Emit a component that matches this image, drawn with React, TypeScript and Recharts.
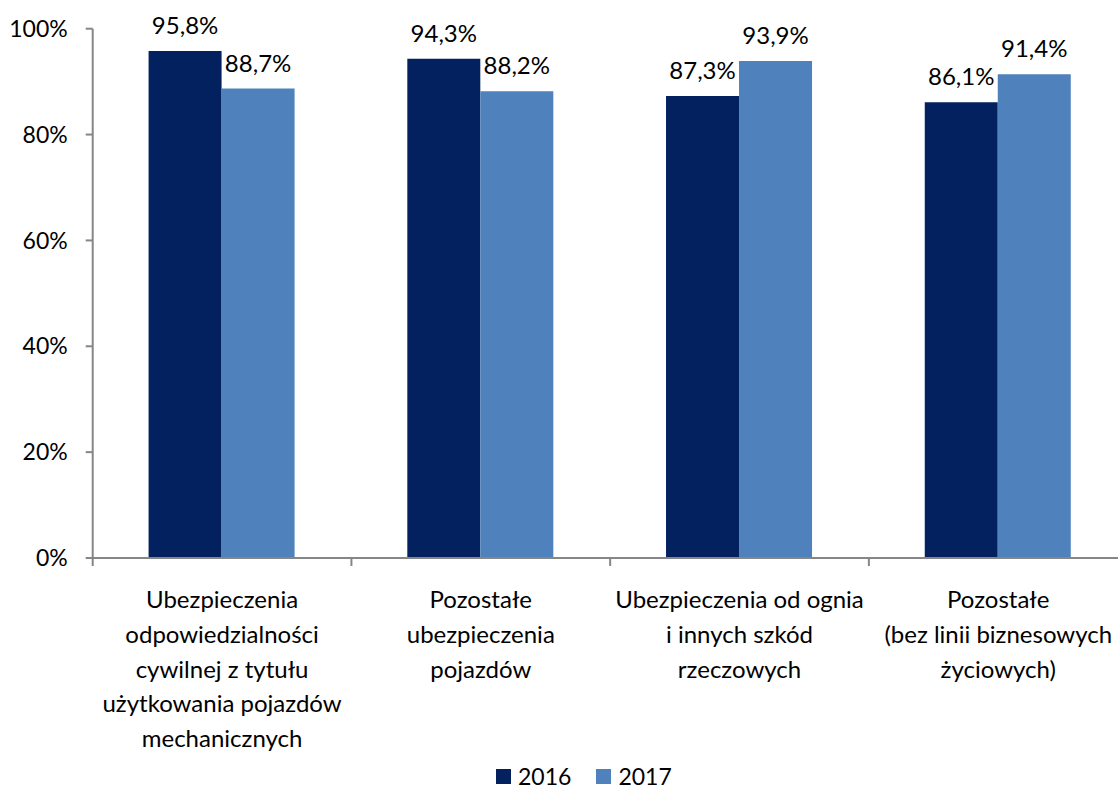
import React from 'react';
import { BarChart, Bar, XAxis, YAxis, LabelList, Legend } from 'recharts';

const categories = [
  'Ubezpieczenia\nodpowiedzialności\ncywilnej z tytułu\nużytkowania pojazdów\nmechanicznych',
  'Pozostałe\nubezpieczenia\npojazdów',
  'Ubezpieczenia od ognia\ni innych szkód\nrzeczowych',
  'Pozostałe\n(bez linii biznesowych\nżyciowych)',
];
const values2016 = [95.8, 94.3, 87.3, 86.1];
const values2017 = [88.7, 88.2, 93.9, 91.4];
const yTicks = [0, 20, 40, 60, 80, 100];
const seriesNames = ['2016', '2017'];
const seriesColors = ['#03205F', '#4F81BD'];

const data = categories.map((name, i) => ({
  name,
  v2016: values2016[i],
  v2017: values2017[i],
}));

const FONT = 'Lato, "Open Sans", sans-serif';
const AXIS = '#868686';

const fmt = (v: any) => `${Number(v).toFixed(1).replace('.', ',')}%`;

const CategoryTick = (props: any) => {
  const { x, y, payload } = props;
  const lines = String(payload.value).split('\n');
  const half = payload.offset ?? 0;
  return (
    <g>
      <line x1={x - half} x2={x - half} y1={y - 8} y2={y} stroke={AXIS} strokeWidth={2} />
      <text x={x} y={y} textAnchor="middle" fontFamily={FONT} fontSize={24} fill="#000">
        {lines.map((l, i) => (
          <tspan key={i} x={x} dy={i === 0 ? 42 : 34.8}>
            {l}
          </tspan>
        ))}
      </text>
    </g>
  );
};

const LegendContent = () => (
  <div
    style={{
      height: 26,
      display: 'flex',
      alignItems: 'center',
      paddingLeft: 496,
      fontFamily: FONT,
      fontSize: 23,
      lineHeight: '26px',
      color: '#000',
    }}
  >
    {seriesNames.map((n, i) => (
      <div key={n} style={{ display: 'flex', alignItems: 'center', marginRight: 25 }}>
        <div style={{ width: 15, height: 15, background: seriesColors[i], marginRight: 7 }} />
        <span>{n}</span>
      </div>
    ))}
  </div>
);

export default function App() {
  return (
    <div style={{ position: 'absolute', left: 0, top: 0, width: 1118, height: 789, overflow: 'hidden', background: '#fff' }}>
      <BarChart
        width={1140}
        height={789}
        data={data}
        margin={{ top: 28.7, right: 12.4, left: 0, bottom: 0 }}
        barCategoryGap="21.6%"
        barGap={0}
      >
        <YAxis
          domain={[0, 100]}
          ticks={yTicks}
          tickFormatter={(v: any) => `${v}%`}
          width={92.7}
          axisLine={{ stroke: AXIS, strokeWidth: 2 }}
          tickLine={{ stroke: AXIS, strokeWidth: 2 }}
          tickSize={7}
          tickMargin={18}
          tick={{ fontFamily: FONT, fontSize: 23, fill: '#000' }}
          interval={0}
        />
        <XAxis
          dataKey="name"
          interval={0}
          height={205}
          axisLine={{ stroke: AXIS, strokeWidth: 2 }}
          tickLine={false}
          tickSize={8}
          tickMargin={0}
          tick={<CategoryTick />}
        />
        <Legend verticalAlign="bottom" content={<LegendContent />} wrapperStyle={{ left: 0, width: 1118 }} />
        <Bar dataKey="v2016" name={seriesNames[0]} fill={seriesColors[0]} isAnimationActive={false}>
          <LabelList dataKey="v2016" position="top" offset={17} formatter={fmt} fontFamily={FONT} fontSize={24} fill="#000" />
        </Bar>
        <Bar dataKey="v2017" name={seriesNames[1]} fill={seriesColors[1]} isAnimationActive={false}>
          <LabelList dataKey="v2017" position="top" offset={17} formatter={fmt} fontFamily={FONT} fontSize={24} fill="#000" />
        </Bar>
      </BarChart>
    </div>
  );
}
